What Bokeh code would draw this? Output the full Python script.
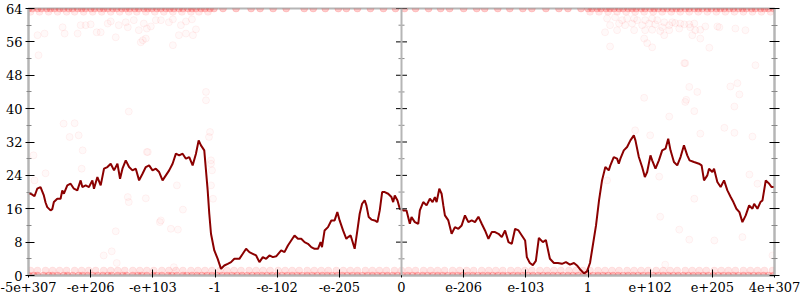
from bokeh.plotting import figure
from bokeh.models import Range1d, FixedTicker, LinearAxis, Span
from bokeh.embed import file_html
from bokeh.resources import INLINE

# ---------------- data ----------------
tick_pos = [-372, -310, -248, -186, -124, -62, 0, 62, 124, 186, 248, 310, 372]
tick_labels = ["-5e+307", "-e+206", "-e+103", "-1", "-e-102", "-e-205", "0",
               "e-206", "e-103", "1", "e+102", "e+205", "4e+307"]
y_major = [0, 8, 16, 24, 32, 40, 48, 56, 64]
y_minor = [4, 12, 20, 28, 36, 44, 52, 60]

line_x = [-372, -369, -366, -363.3, -360, -356.7, -355, -353.3, -350, -348.3, -346.7, -343.3, -340,
          -338.3, -336.7, -333.3, -330, -326.7, -323.3, -320, -318.3, -315, -311.7, -308.3, -306.7,
          -303.3, -300, -296.7, -293.3, -290, -286.7, -283.3, -280.7, -278.3, -275, -271.7, -268.3,
          -265, -261.7, -258.3, -255, -251.7, -248.3, -245, -241.7, -238.3, -235, -231.7, -228.3,
          -225, -221.7, -218.3, -215, -211.7, -208.3, -205, -202.3, -200, -196.7, -195, -193.3,
          -191.7, -190, -186.7, -183.3, -180, -176.7, -173.3, -170, -166.7, -161.7, -158.3, -155,
          -151.7, -148.3, -145, -141.7, -138.3, -135, -131.7, -128.3, -125, -120, -116.7, -113.3,
          -110, -106.7, -103.3, -100, -96.7, -93.3, -90, -86.7, -83.3, -80.7, -79.3, -76.7, -73.3,
          -70, -66.7, -64, -61.7, -58.3, -55, -53.3, -50.7, -46.7, -44, -41.7, -39.3, -36.7, -35,
          -32.7, -30, -26.7, -24, -21.7, -19.3, -16.7, -13.3, -10, -8.3, -6.7, -4, -1.7, 1.7, 5,
          8.3, 10, 13.3, 16.7, 18.3, 21.7, 25, 28.3, 31, 33.3, 35, 37.7, 40, 41.7, 43.3, 46.7, 50,
          53.3, 56.7, 60, 63.3, 66.7, 70, 73.3, 76.7, 80, 83.3, 86.7, 90, 93.3, 96.7, 100, 103.3,
          106.7, 110, 113.3, 116.7, 120, 123.3, 125, 128, 131, 134, 137, 141, 144, 148, 152, 156,
          160, 164, 168, 172, 175, 178, 182, 185, 188, 190, 194, 197, 200, 203.3, 206.7, 208.3,
          211.7, 215, 216.7, 218.3, 221.7, 225, 228.3, 231.7, 233.3, 236.7, 240, 242.7, 245, 248.3,
          250, 253.3, 256.7, 260, 263.3, 266, 268.3, 271.7, 275, 278.3, 281.7, 285, 287.3, 291.7,
          296.7, 299.3, 301.7, 305, 306.7, 310, 311.7, 315, 318.3, 321.7, 325, 328.3, 331, 334,
          337, 340, 343.3, 346.7, 350, 351.7, 355, 358, 360, 363.3, 366.7, 369, 372]
line_y = [19.7, 19.5, 19.0, 20.8, 21.2, 19.2, 17.5, 16.4, 15.6, 15.9, 17.6, 18.4, 18.4,
          20.4, 19.6, 21.6, 22.0, 20.8, 20.4, 22.8, 21.2, 21.6, 21.2, 22.8, 20.8,
          23.6, 21.6, 25.6, 26.0, 26.8, 25.2, 26.8, 23.2, 25.6, 27.6, 26.0, 25.2,
          25.6, 22.8, 24.4, 26.0, 26.4, 25.2, 25.6, 24.8, 22.8, 24.0, 25.2, 26.8,
          29.2, 28.8, 29.2, 28.0, 28.4, 26.4, 29.2, 32.4, 31.2, 30.0, 25.2, 20.4,
          14.8, 10.0, 6.0, 4.0, 1.6, 2.4, 2.8, 3.2, 4.0, 4.0, 5.2, 6.4,
          5.6, 5.2, 4.8, 3.2, 4.4, 4.0, 4.8, 4.4, 4.6, 6.0, 5.6, 7.2,
          8.4, 9.6, 8.8, 8.8, 8.0, 7.6, 6.8, 6.4, 6.4, 8.0, 6.8, 10.8, 11.6,
          13.2, 13.2, 15.2, 13.2, 10.8, 8.8, 9.2, 9.6, 6.4, 10.8, 14.8, 17.2, 18.0, 16.8,
          14.0, 13.4, 13.2, 12.8, 15.6, 20.0, 20.0, 19.6, 18.8, 17.6, 19.2, 18.0, 16.0, 15.6, 15.6,
          12.4, 14.0, 12.8, 12.4, 15.6, 17.6, 16.8, 18.4, 17.6, 18.8, 17.6, 20.8, 19.6, 16.8, 14.4, 13.2, 10.0,
          11.6, 11.2, 12.0, 14.4, 12.8, 13.2, 12.8, 14.1, 12.4, 10.8, 8.8, 10.4, 10.4, 10.0, 9.2, 10.8,
          8.0, 7.6, 11.2, 10.8, 9.6, 8.4, 4.4, 3.0, 2.5, 3.5, 9.0, 8.0, 8.5, 4.0, 3.0, 3.0,
          2.8, 3.2, 2.6, 3.0, 2.4, 1.5, 0.5, 1.0, 3.0, 6.0, 12.0, 18.0, 22.8, 26.0, 25.2, 26.4,
          28.4, 28.0, 26.8, 28.0, 30.0, 30.8, 32.4, 33.6, 32.4, 28.4, 26.0, 23.6, 24.8, 28.8,
          27.6, 25.6, 27.6, 30.0, 30.4, 32.8, 30.0, 27.2, 26.4, 28.4, 31.2, 28.8, 27.6, 27.2,
          26.8, 26.4, 22.8, 24.0, 25.6, 24.8, 25.6, 22.4, 21.2, 22.8, 20.4, 18.8, 17.6, 16.0,
          15.2, 12.8, 14.4, 16.8, 16.0, 17.2, 16.0, 17.6, 18.0, 22.8, 22.0, 21.2, 21.2]

# dense rows of individual samples at the extremes
top_row_x = [-372, -368, -363, -359, -354, -350, -346, -341, -337, -332, -328, -323, -319, -315, -310,
             -306, -301, -297, -293, -288, -284, -279, -275, -271, -266, -262, -257, -253, -249, -244,
             -240, -235, -231, -227, -222, -218, -213, -209, -205, -200, -196, -191, -187,
             -178, -165, -150, -141, -128, -115, -97, -88, -76, -63, -55, -44, -31, -18, -6, 3, 14,
             27, 39, 48, 62, 75, 83, 96, 108, 121, 130, 144, 157, 166, 179,
             186, 190, 195, 199, 204, 208, 212, 217, 221, 226, 230, 234, 239, 243, 248, 252, 256, 261,
             265, 270, 274, 278, 283, 287, 292, 296, 300, 305, 309, 314, 318, 322, 327, 331, 336, 340,
             344, 349, 353, 358, 362, 366, 371, 374]
top_row2_x = [-370, -361, -352, -343, -334, -326, -317, -308, -299, -290, -281, -272, -264, -255,
              -246, -237, -228, -219, -210, -202, -193, 188, 197, 206, 215, 224, 233, 242, 251, 260,
              269, 278, 287, 296, 305, 314, 323, 332, 341, 350, 359, 368]
bot_row_x = [-372, -367, -363, -357, -352, -348, -343, -337, -333, -328, -322, -318, -313, -308, -303,
             -298, -293, -289, -283, -278, -274, -268, -263, -259, -254, -248, -244, -239, -233, -229,
             -224, -218, -214, -209, -204, -199, -194, -189, -184, -179, -174, -169, -164, -159, -154,
             -149, -144, -139, -134, -129, -124, -119, -114, -109, -104, -99, -94, -89, -84, -79, -74,
             -69, -64, -59, -54, -49, -44, -39, -34, -29, -24, -19, -14, -9, -4, 1, 6, 11, 16, 21, 26,
             31, 36, 41, 46, 51, 56, 61, 66, 71, 76, 81, 86, 91, 96, 101, 106, 111, 116, 121, 126, 131,
             136, 141, 146, 151, 156, 161, 166, 171, 176, 181, 186, 191, 196, 201, 206, 211, 216, 221,
             226, 231, 236, 241, 246, 251, 256, 261, 266, 271, 276, 281, 286, 291, 296, 301, 306, 311,
             316, 321, 326, 331, 336, 341, 346, 351, 356, 361, 366, 371]
bot_row2_x = [-370, -363, -355, -348, -341, -334, -326, -319, -312, -305, -297, -290, -283, -276, -268,
              -261, -254, -247, -239, -232, -225, -218, -210, -203, -196, -189, -181, -174, -167, -160,
              -152, -145, -138, -131, -123, -116, -109, -102, -94, -87, -80, -73, -65, -58, -51, -44,
              -36, -29, -22, -15, -7, 0, 7, 14, 22, 29, 36, 43, 51, 58, 65, 72, 80, 87, 94, 101, 109,
              116, 123, 130, 138, 145, 152, 159, 167, 174, 181, 188, 196, 203, 210, 217, 225, 232, 239,
              246, 254, 261, 268, 275, 283, 290, 297, 304, 312, 319, 326, 333, 341, 348, 355, 362, 370]
top_row_y = 64
top_row2_y = 63.2
bot_row_y = 0
bot_row2_y = 1.2

# scattered individual samples
scat_x = [-363, -356, -362, -338, -336, -323, -320, -315, -310, -304, -300, -293, -285, -290, -282,
          -275, -273, -267, -260, -262, -257, -254, -250, -245, -240, -232, -228, -220, -215, -209,
          -205, -228, -215, -222, -208, -255, -258,
          205, 213, 220, 225, 232, 235, 243, 250, 255, 262, 270, 278, 287, 292, 208, 217, 223, 230,
          240, 247, 253, 260, 267, 273, 282, 288, 203, 215, 232, 243, 250, 258, 267, 277, 293, 298,
          303, 315, 317, 333, 343, 262, 290, 298, 242, 245, 250, 208, 307, 282, 283, 353, 287, 295,
          328, 335, 337, 242, 284,
          283, 332, 292, 267, 233, 248, 322, 332, 298, 350, 347, 355, 257, 205, 292,
          258, 277, 287, 312, 340, 370, 263,
          -367, -337, -326, -331, -322, -318, -319, -355, -366, -272, -254, -273, -255, -224,
          -272, -218, -241, -230, -223, -285, -289, -297, -284, -227,
          -192, -191, -190, -189, -190, -188, -190, -240, -253, -195, -195]
scat_y = [57.6, 58.0, 52.8, 59.5, 58.0, 58.0, 60.0, 60.0, 60.2, 58.3, 58.3, 60.4, 57.1, 60.9, 60.0,
          60.7, 59.5, 61.2, 55.9, 58.8, 60.4, 59.2, 59.7, 61.2, 61.2, 60.7, 61.4, 60.0, 60.9, 61.4,
          59.0, 55.2, 58.0, 57.6, 57.6, 56.8, 56.4,
          61.6, 61.9, 61.2, 61.6, 61.6, 61.2, 61.2, 61.6, 61.2, 60.7, 60.7, 60.4, 60.2, 60.4, 60.0,
          60.4, 60.0, 60.4, 60.0, 60.4, 60.2, 59.5, 60.0, 60.5, 60.2, 59.5, 58.3, 58.8, 58.8, 58.8,
          58.9, 58.6, 58.8, 59.2, 58.8, 58.9, 59.7, 59.7, 59.5, 59.2, 58.8, 57.6, 57.6, 56.8, 56.8,
          55.7, 54.7, 54.9, 54.6, 50.9, 50.9, 50.4, 45.2, 44.0, 45.3, 46.1, 43.4, 42.6, 42.1,
          41.6, 40.5, 39.4, 38.1, 34.8, 33.6, 35.4, 34.2, 34.0, 33.3, 24.2, 22.0, 23.7, 22.8, 18.4,
          14.1, 11.0, 8.6, 8.4, 9.2, 4.8, 2.6,
          28.8, 36.4, 36.5, 33.2, 33.6, 30.0, 25.6, 24.5, 22.8, 39.3, 29.6, 18.8, 18.5, 21.6,
          17.6, 15.8, 12.8, 11.2, 11.0, 10.6, 5.8, 4.8, 3.0, 2.0,
          33.2, 34.4, 26.8, 25.2, 21.6, 18.4, 27.6, 13.2, 29.6, 44.0, 42.0]

# ---------------- figure ----------------
FONT = "DejaVu Serif"
AXIS_GRAY = "#b5b5b5"

p = figure(width=800, height=300, output_backend="svg", toolbar_location=None,
           x_range=Range1d(-372, 372), y_range=Range1d(0, 64),
           min_border_left=28, min_border_right=26, min_border_top=8, min_border_bottom=25,
           x_axis_location="below", y_axis_location="left")
p.background_fill_color = "white"
p.border_fill_color = "white"
p.outline_line_color = AXIS_GRAY
p.outline_line_width = 2
p.xgrid.visible = False
p.ygrid.visible = False

pt_style = dict(fill_color="red", line_color="red", size=7)
p.scatter(scat_x, scat_y, fill_alpha=0.025, line_alpha=0.05, **pt_style)
p.scatter(bot_row2_x, [bot_row2_y] * len(bot_row2_x), fill_alpha=0.1, line_alpha=0.06, **pt_style)
p.scatter(bot_row_x, [bot_row_y] * len(bot_row_x), fill_alpha=0.22, line_alpha=0.12, **pt_style)
p.scatter(top_row2_x, [top_row2_y] * len(top_row2_x), fill_alpha=0.07, line_alpha=0.06, **pt_style)
p.scatter(top_row_x, [top_row_y] * len(top_row_x), fill_alpha=0.2, line_alpha=0.12, **pt_style)

p.line(line_x, line_y, line_color="#8b0000", line_width=2)

# centre axis (value 0 of x)
p.add_layout(Span(location=0, dimension="height", line_color=AXIS_GRAY, line_width=2))
p.scatter([0] * len(y_major), y_major, marker="dash", size=11, line_color="black", line_width=1)
p.scatter([0] * len(y_minor), y_minor, marker="dash", size=6, line_color="#888888", line_width=1)

yticker = FixedTicker(ticks=y_major, minor_ticks=y_minor)
xticker = FixedTicker(ticks=tick_pos, minor_ticks=[])


def style_axis(ax):
    ax.axis_line_color = AXIS_GRAY
    ax.axis_line_width = 2
    ax.major_tick_line_color = "black"
    ax.minor_tick_line_color = "#888888"
    ax.major_label_text_font = FONT
    ax.major_label_text_font_size = "13px"
    ax.major_label_text_color = "black"


# bottom axis
xa = p.xaxis[0]
xa.ticker = xticker
xa.major_label_overrides = {t: l for t, l in zip(tick_pos, tick_labels)}
style_axis(xa)
xa.major_tick_in = 6
xa.major_tick_out = 2
xa.major_label_standoff = 4

# left axis
ya = p.yaxis[0]
ya.ticker = yticker
style_axis(ya)
ya.major_tick_in = 6
ya.major_tick_out = 3
ya.minor_tick_in = 3
ya.minor_tick_out = 2
ya.major_label_standoff = 3

# right axis (ticks only)
ra = LinearAxis(ticker=yticker)
style_axis(ra)
ra.major_tick_in = 5
ra.major_tick_out = 5
ra.minor_tick_in = 3
ra.minor_tick_out = 3
ra.major_label_text_color = None
p.add_layout(ra, "right")

open("out.html", "w").write(file_html(p, INLINE))
